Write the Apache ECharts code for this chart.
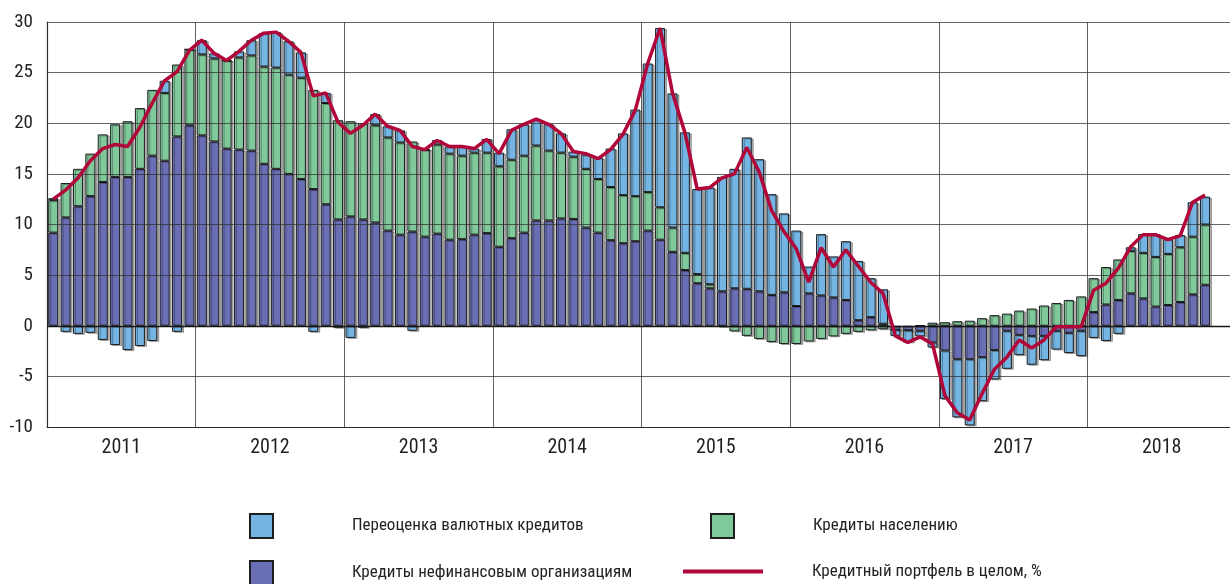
<!DOCTYPE html>
<html>
<head>
    <meta charset="utf-8">
    <title>ECharts</title>
    <script src="https://cdn.jsdelivr.net/npm/echarts@6/dist/echarts.min.js"></script>
</head>
<body>
<style>
    html, body, #main {
        width: 100%;
        height: 100%;
        padding: 0;
        margin: 0;
        background: #fff;
    }
</style>
<div id="main"></div>
<script type="text/javascript">

    var years = ['2011', '2012', '2013', '2014', '2015', '2016', '2017', '2018'];

    // январь 2011 – октябрь 2018, п.п.
    var corp = [
        9.2, 10.7, 11.8, 12.8, 14.2, 14.7, 14.7, 15.5, 16.8, 16.3, 18.7, 19.8,
        18.8, 18.2, 17.5, 17.4, 17.3, 16.0, 15.5, 15.0, 14.5, 13.5, 12.0, 10.5,
        10.8, 10.5, 10.2, 9.4, 9.0, 9.3, 8.8, 9.1, 8.5, 8.55, 9.0, 9.15,
        7.8, 8.65, 9.2, 10.4, 10.4, 10.6, 10.55, 9.7, 9.2, 8.45, 8.15, 8.35,
        9.4, 8.5, 7.3, 5.5, 4.2, 3.7, 3.4, 3.7, 3.65, 3.4, 3.05, 3.3,
        1.95, 3.2, 3.0, 2.8, 2.55, 0.55, 0.85, 0.2, -0.4, -0.45, -0.5, -1.65,
        -2.45, -3.3, -3.3, -3.1, -2.4, -0.5, -0.9, -1.0, -1.0, -0.5, -0.7, -0.5,
        1.35, 2.1, 2.55, 3.2, 2.7, 1.9, 2.05, 2.35, 3.1, 4.05
    ];
    var house = [
        3.2, 3.4, 3.7, 4.2, 4.7, 5.2, 5.5, 6.0, 6.5, 6.7, 7.1, 7.5,
        8.0, 8.2, 8.7, 9.1, 9.4, 9.6, 10.0, 9.8, 10.0, 9.8, 10.0, 9.8,
        9.4, 9.5, 9.6, 9.2, 9.1, 8.9, 8.6, 8.8, 8.5, 8.25, 8.1, 7.95,
        7.95, 7.75, 7.6, 7.4, 6.9, 6.5, 6.15, 5.8, 5.3, 5.25, 4.75, 4.45,
        3.8, 3.2, 2.4, 1.7, 0.9, 0.4, -0.1, -0.55, -1.0, -1.3, -1.6, -1.8,
        -1.8, -1.55, -1.3, -1.05, -0.8, -0.6, -0.45, -0.35, 0, 0, 0.05, 0.3,
        0.35, 0.45, 0.5, 0.75, 1.05, 1.2, 1.5, 1.7, 2.0, 2.25, 2.55, 2.9,
        3.35, 3.7, 4.0, 4.2, 4.5, 4.9, 5.05, 5.4, 5.7, 5.95
    ];
    var reval = [
        0.2, -0.6, -0.8, -0.7, -1.4, -1.9, -2.4, -2.0, -1.5, 1.2, -0.6, 0,
        1.4, 0.5, 0, 0.6, 1.5, 3.3, 3.5, 3.3, 2.5, -0.6, 1.0, -0.2,
        -1.2, -0.2, 1.1, 1.1, 1.2, -0.5, 0, 0.45, 0.7, 0.9, 0.4, 1.35,
        1.35, 3.0, 3.1, 2.6, 2.6, 1.9, 0.5, 1.4, 2.1, 3.8, 6.1, 8.55,
        12.7, 17.7, 13.25, 11.9, 8.4, 9.55, 11.3, 11.8, 14.95, 13.05, 9.95, 7.8,
        7.45, 2.65, 6.05, 4.05, 5.8, 5.85, 3.85, 3.4, -0.6, -1.2, -0.55, -0.5,
        -4.8, -5.75, -6.55, -4.35, -2.9, -3.75, -2.0, -2.85, -2.4, -1.85, -2.0, -2.5,
        -1.2, -1.5, -0.8, 0.35, 1.85, 2.25, 1.45, 1.2, 3.4, 2.75
    ];
    var total = [
        12.5, 13.4, 14.6, 16.3, 17.5, 17.9, 17.7, 19.6, 22.0, 24.2, 25.1, 27.2,
        28.2, 26.9, 26.2, 27.1, 28.2, 28.9, 29.0, 28.1, 27.0, 22.7, 23.0, 20.1,
        19.0, 19.8, 20.9, 19.7, 19.3, 17.7, 17.4, 18.3, 17.7, 17.7, 17.5, 18.4,
        17.0, 19.3, 19.9, 20.4, 19.9, 19.0, 17.2, 17.0, 16.5, 17.4, 18.9, 21.3,
        25.9, 29.4, 23.0, 19.1, 13.5, 13.65, 14.6, 15.0, 17.6, 15.2, 11.4, 9.3,
        7.6, 4.3, 7.7, 5.8, 7.5, 5.9, 4.3, 3.2, -1.0, -1.65, -1.1, -1.8,
        -6.9, -8.6, -9.3, -6.7, -4.3, -3.1, -1.4, -2.2, -1.4, -0.1, -0.1, -0.1,
        3.5, 4.2, 5.7, 7.8, 9.0, 9.0, 8.5, 8.9, 12.2, 12.9
    ];

    var names = ['Переоценка валютных кредитов', 'Кредиты населению',
        'Кредиты нефинансовым организациям', 'Кредитный портфель в целом, %'];

    // месяцы по годам — категории оси X
    var months = [];
    years.forEach(function (y) {
        for (var m = 1; m <= 12; m++) months.push(y + '-' + (m < 10 ? '0' + m : m));
    });

    var FONT = '"Roboto Condensed", "Liberation Sans Narrow", sans-serif';
    var TXT = '#231f20';

    var barStyle = function (c) {
        return {
            color: c,
            borderColor: '#1e1e1e',
            borderWidth: 1,
            shadowColor: 'rgba(0,0,0,0.3)',
            shadowOffsetX: 2,
            shadowOffsetY: 1
        };
    };

    function legend(name, left, top, w, h, pad) {
        return {
            data: [name],
            left: left,
            top: top,
            padding: 0,
            icon: 'rect',
            itemWidth: w,
            itemHeight: h,
            selectedMode: false,
            textStyle: {fontFamily: FONT, fontSize: 17, color: TXT, padding: [0, 0, 0, pad]}
        };
    }

    var myChart = echarts.init(document.getElementById('main'));

    myChart.setOption({
        animation: false,
        grid: {left: 47, right: -6, top: 22, bottom: 157, outerBoundsMode: 'none'},
        legend: [
            legend(names[0], 249, 513, 23, 24, 74),
            legend(names[1], 710, 513, 23, 24, 74),
            legend(names[2], 249, 560, 23, 24, 74),
            legend(names[3], 683, 563, 80, 4, 44)
        ],
        xAxis: [
            {
                type: 'category',
                data: months,
                position: 'bottom',
                axisLine: {show: false},
                axisTick: {show: false},
                axisLabel: {show: false},
                splitLine: {show: false}
            },
            {
                type: 'value',
                position: 'bottom',
                min: 0,
                max: 96,
                interval: 6,
                z: 3,
                axisLine: {show: true, onZero: false, lineStyle: {color: '#2a2a2a', width: 1.2}},
                axisTick: {show: false},
                splitLine: {show: false},
                axisLabel: {
                    margin: 11,
                    fontFamily: FONT,
                    fontSize: 20,
                    color: TXT,
                    formatter: function (v) {
                        return (v % 12 === 6) ? years[(v - 6) / 12] : '';
                    }
                }
            },
            {
                type: 'value',
                position: 'bottom',
                min: 0,
                max: 96,
                interval: 12,
                z: 3,
                axisLine: {show: false},
                axisTick: {show: false},
                axisLabel: {show: false},
                splitLine: {show: true, lineStyle: {color: 'rgba(60,60,60,0.8)', width: 1}}
            }
        ],
        yAxis: {
            type: 'value',
            min: -10,
            max: 30,
            interval: 5,
            z: 3,
            axisLine: {show: true, lineStyle: {color: '#2a2a2a', width: 1.2}},
            axisTick: {show: false},
            axisLabel: {margin: 14, fontFamily: FONT, fontSize: 19, color: TXT},
            splitLine: {lineStyle: {color: 'rgba(50,50,50,0.75)', width: 1}}
        },
        series: [
            {
                name: names[2],
                type: 'bar',
                stack: 'k',
                barWidth: 10,
                itemStyle: barStyle('#6a6fb5'),
                data: corp,
                markLine: {
                    silent: true,
                    symbol: 'none',
                    label: {show: false},
                    lineStyle: {color: '#151515', width: 1.3, type: 'solid'},
                    data: [{yAxis: 0}]
                }
            },
            {
                name: names[1],
                type: 'bar',
                stack: 'k',
                barWidth: 10,
                itemStyle: barStyle('#80c99b'),
                data: house
            },
            {
                name: names[0],
                type: 'bar',
                stack: 'k',
                barWidth: 10,
                itemStyle: barStyle('#75b5e3'),
                data: reval
            },
            {
                name: names[3],
                type: 'line',
                z: 5,
                symbol: 'none',
                color: '#b0063a',
                lineStyle: {color: '#b0063a', width: 3.5},
                data: total
            }
        ]
    });

    window.onresize = function () {
        myChart.resize();
    };

</script>
</body>
</html>
